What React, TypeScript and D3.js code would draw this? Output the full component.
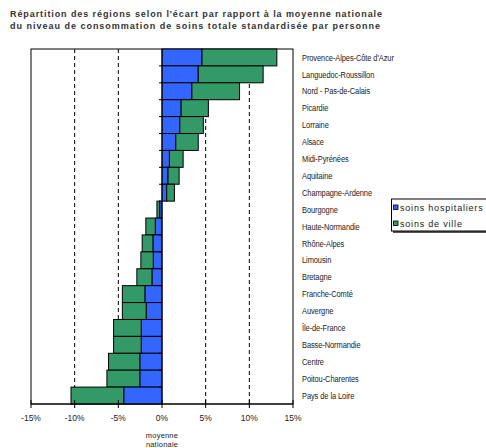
import React from "react";
import * as d3 from "d3";

const regions = [
  "Provence-Alpes-Côte d'Azur",
  "Languedoc-Roussillon",
  "Nord - Pas-de-Calais",
  "Picardie",
  "Lorraine",
  "Alsace",
  "Midi-Pyrénées",
  "Aquitaine",
  "Champagne-Ardenne",
  "Bourgogne",
  "Haute-Normandie",
  "Rhône-Alpes",
  "Limousin",
  "Bretagne",
  "Franche-Comté",
  "Auvergne",
  "Île-de-France",
  "Basse-Normandie",
  "Centre",
  "Poitou-Charentes",
  "Pays de la Loire",
];

const soinsHospitaliers = [
  4.58, 4.15, 3.42, 2.19, 2.04, 1.58, 0.85, 0.69, 0.54, -0.27, -0.77, -1.04,
  -1.0, -1.15, -1.96, -1.81, -2.38, -2.38, -2.54, -2.54, -4.38,
];
const soinsDeVille = [
  8.57, 7.43, 5.46, 3.12, 2.69, 2.57, 1.57, 1.27, 0.88, -0.31, -1.08, -1.23,
  -1.42, -1.73, -2.58, -2.73, -3.16, -3.16, -3.58, -3.77, -6.04,
];

const xTicks = [-15, -10, -5, 0, 5, 10, 15];
const gridTicks = [-10, -5, 5, 10];
const titleLines = [
  "Répartition des régions selon l'écart par rapport à la moyenne nationale",
  "du niveau de consommation de soins totale standardisée par personne",
];
const titleWidths = [372, 370];
const legendItems = [
  { label: "soins hospitaliers", color: "#3366FF" },
  { label: "soins de ville", color: "#339966" },
];

const W = 486;
const H = 448;
const plot = { left: 31, right: 293, top: 49, bottom: 404 };
const font = "Liberation Sans, Arial, sans-serif";

export default function App() {
  const x = d3.scaleLinear().domain([-15, 15]).range([plot.left, plot.right]);
  const y = d3
    .scaleBand<string>()
    .domain(regions)
    .range([plot.top, plot.bottom])
    .padding(0);
  const bw = y.bandwidth();
  const x0 = x(0);

  return (
    <svg
      width={W}
      height={H}
      style={{ position: "absolute", left: 0, top: 0, background: "#fff" }}
      fontFamily={font}
    >
      {titleLines.map((t, i) => (
        <text
          key={i}
          x={10}
          y={17 + i * 12}
          fontSize={9}
          fontWeight="bold"
          fill="#333"
          textLength={titleWidths[i]}
          lengthAdjust="spacing"
        >
          {t}
        </text>
      ))}

      {/* plot frame */}
      <rect
        x={plot.left}
        y={plot.top}
        width={plot.right - plot.left}
        height={plot.bottom - plot.top}
        fill="none"
        stroke="#000"
        strokeWidth={1}
      />

      {/* gridlines */}
      {gridTicks.map((t) => (
        <line
          key={t}
          x1={x(t)}
          x2={x(t)}
          y1={plot.top}
          y2={plot.bottom}
          stroke="#000"
          strokeWidth={1}
          strokeDasharray="4,3"
        />
      ))}

      {/* bars */}
      {regions.map((r, i) => {
        const h = soinsHospitaliers[i];
        const v = soinsDeVille[i];
        const yy = y(r)!;
        const bx1 = Math.min(x0, x(h));
        const bx2 = Math.max(x0, x(h));
        const gx1 = Math.min(x(h), x(h + v));
        const gx2 = Math.max(x(h), x(h + v));
        return (
          <g key={r}>
            <rect
              x={bx1}
              y={yy}
              width={bx2 - bx1}
              height={bw}
              fill={legendItems[0].color}
              stroke="#000"
              strokeWidth={1}
            />
            <rect
              x={gx1}
              y={yy}
              width={gx2 - gx1}
              height={bw}
              fill={legendItems[1].color}
              stroke="#000"
              strokeWidth={1}
            />
          </g>
        );
      })}

      {/* category axis at 0 */}
      <line x1={x0} x2={x0} y1={plot.top} y2={plot.bottom} stroke="#000" strokeWidth={1} />
      {regions.map((r, i) =>
        i === 0 ? null : (
          <line
            key={r}
            x1={x0 - 3}
            x2={x0}
            y1={y(r)!}
            y2={y(r)!}
            stroke="#000"
            strokeWidth={1}
          />
        )
      )}

      {/* category labels */}
      {regions.map((r) => (
        <text
          key={r}
          transform={`translate(302,${y(r)! + bw / 2}) scale(0.83,1)`}
          dy="0.35em"
          fontSize={9}
          fill="#222"
          letterSpacing={-0.1}
        >
          {r}
        </text>
      ))}

      {/* x axis */}
      <line x1={plot.left} x2={plot.right} y1={plot.bottom} y2={plot.bottom} stroke="#000" strokeWidth={1.2} />
      {xTicks.map((t) => (
        <g key={t}>
          <line x1={x(t)} x2={x(t)} y1={plot.bottom - 4} y2={plot.bottom + 4} stroke="#000" strokeWidth={1} />
          <text x={x(t)} y={421} textAnchor="middle" fontSize={8.5} fill="#222">
            {`${t}%`}
          </text>
        </g>
      ))}
      <text x={x0} y={438} textAnchor="middle" fontSize={7.5} fill="#222" letterSpacing={0.2}>
        moyenne
      </text>
      <text x={x0} y={447} textAnchor="middle" fontSize={7.5} fill="#222" letterSpacing={0.2}>
        nationale
      </text>

      {/* legend */}
      <rect x={393} y={200.5} width={100} height={32.5} fill="#555" />
      <rect x={391.5} y={199} width={100} height={32} fill="#fff" stroke="#000" strokeWidth={1} />
      {legendItems.map((it, i) => (
        <g key={it.label}>
          <rect
            x={393.5}
            y={205 + i * 16}
            width={4.5}
            height={4.5}
            fill={it.color}
            stroke="#000"
            strokeWidth={0.8}
          />
          <text
            x={400}
            y={207.5 + i * 16}
            dy="0.35em"
            fontSize={9}
            fill="#222"
            letterSpacing={0.8}
          >
            {it.label}
          </text>
        </g>
      ))}
    </svg>
  );
}
